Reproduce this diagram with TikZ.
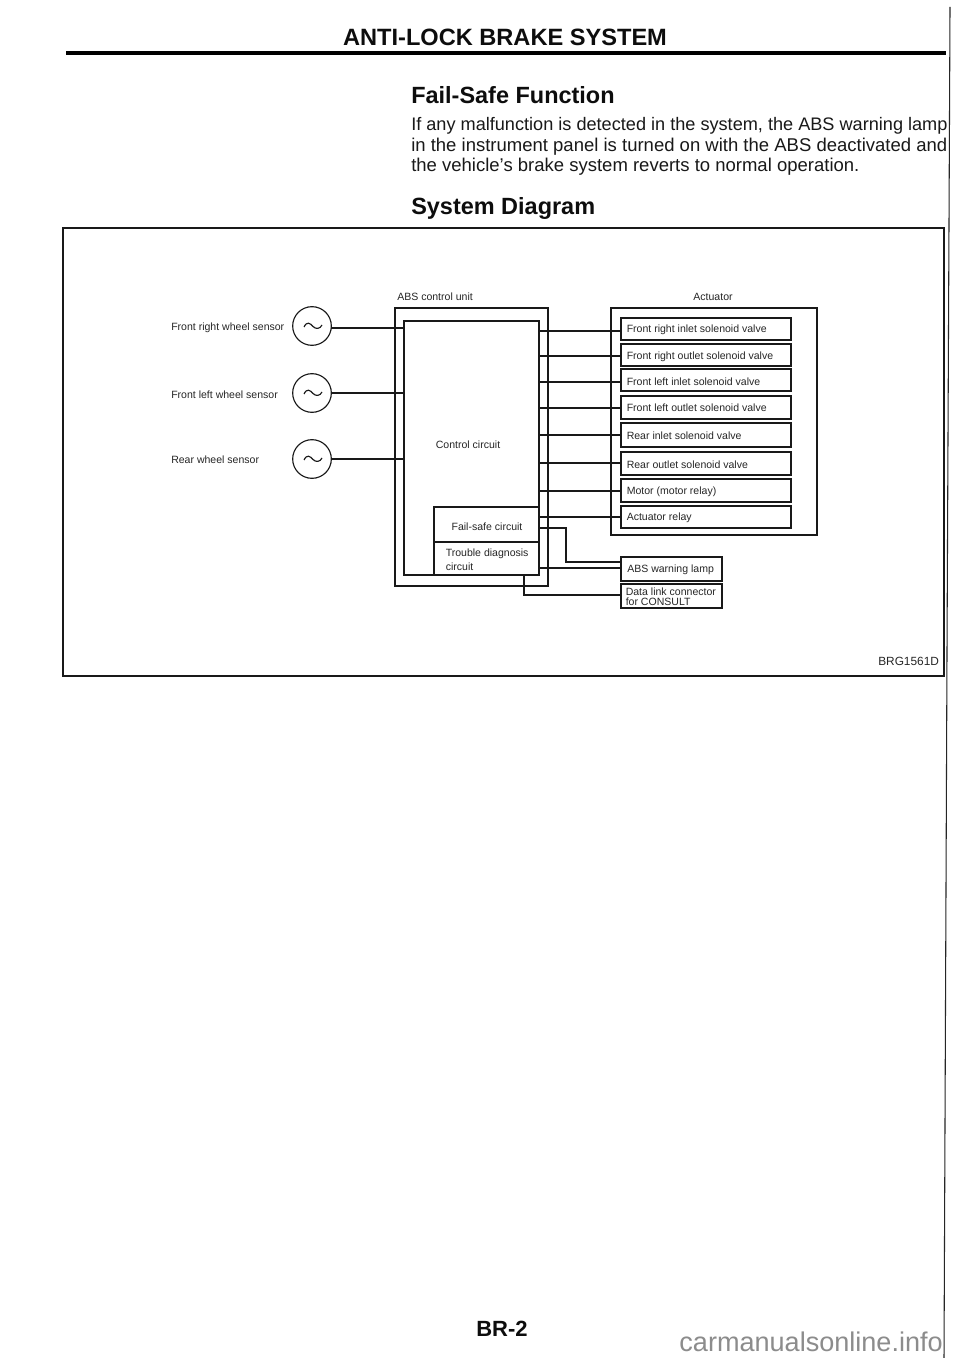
\documentclass[tikz,border=0pt]{standalone}
\usepackage{fontspec}
\setmainfont{Liberation Sans}
\tikzset{
  x=0.75pt,y=-0.75pt,
  ln/.style={draw=black!90,line width=0.85pt},
  blk/.style={ln,rectangle,inner sep=0pt,outer sep=0pt,anchor=north west},
  lbl/.style={font=\fontsize{7.9pt}{8.5pt}\selectfont,text=black!85,inner sep=0pt,anchor=west},
  head/.style={font=\bfseries\fontsize{17.6pt}{20pt}\selectfont,text=black!95,inner sep=0pt,anchor=west},
  body/.style={font=\fontsize{13.6pt}{15pt}\selectfont,text=black!90,inner sep=0pt,anchor=west},
  bodyw/.style={font=\fontsize{13.88pt}{15pt}\selectfont,text=black!90,inner sep=0pt,anchor=west},
  sens/.style={ln,circle,minimum size=29pt,inner sep=0pt,outer sep=0pt},
}
\begin{document}
\begin{tikzpicture}
\useasboundingbox (0,0) rectangle (960,1358);
\fill[white] (0,0) rectangle (960,1358);
% page furniture
\draw[line width=0.8pt,black!85] (950,7) -- (947,650) -- (944,1358);
\draw[line width=2.3pt,black] (66,53) -- (946,53);
\node[font=\bfseries\fontsize{17.7pt}{20pt}\selectfont,text=black!95,inner sep=0pt] (title) at (505,37) {ANTI-LOCK BRAKE SYSTEM};
\node[head] (h1) at (411,95) {Fail-Safe Function};
\node[body] (p1) at (411,126) {If any malfunction is detected in the system, the ABS warning lamp};
\node[bodyw] (p2) at (411,147) {in the instrument panel is turned on with the ABS deactivated and};
\node[bodyw] (p3) at (411,167) {the vehicle’s brake system reverts to normal operation.};
\node[head] (h2) at (411,208) {System Diagram};
\node[font=\bfseries\fontsize{16.5pt}{18pt}\selectfont,text=black!95,inner sep=0pt] (pg) at (502,1329) {BR-2};
\node[font=\fontsize{20.3pt}{22pt}\selectfont,text=black!45,inner sep=0pt,anchor=east] (wm) at (943,1342) {carmanualsonline.info};
% frame
\node[blk,minimum width=881*0.75pt,minimum height=448*0.75pt] (frame) at (63,228) {};
\node[lbl,font=\fontsize{8.9pt}{10pt}\selectfont] (code) at (878,661) {BRG1561D};
% unit
\node[lbl] (abst) at (397,296.5) {ABS control unit};
\node[blk,minimum width=153*0.75pt,minimum height=278*0.75pt] (abs) at (395,308) {};
\node[blk,minimum width=135*0.75pt,minimum height=254*0.75pt] (ctl) at (404,321) {};
\node[lbl,anchor=center] (ctlt) at (468,445) {Control circuit};
\node[blk,minimum width=105*0.75pt,minimum height=35*0.75pt] (fs) at (434,507) {};
\node[lbl,anchor=center] (fst) at (487,526.5) {Fail-safe circuit};
\node[blk,minimum width=105*0.75pt,minimum height=33*0.75pt] (td) at (434,542) {};
\node[lbl,align=left,font=\fontsize{7.9pt}{10.5pt}\selectfont] (tdt) at (445.5,559.5) {Trouble diagnosis\\circuit};
% actuator
\node[lbl,anchor=center] (actt) at (713,296.5) {Actuator};
\node[blk,minimum width=206*0.75pt,minimum height=227*0.75pt] (act) at (611,308) {};
\foreach \n/\y/\h/\ty/\t in {a/318/22/330/Front right inlet solenoid valve,
  b/344/22/357/Front right outlet solenoid valve,
  c/369/22/382/Front left inlet solenoid valve,
  d/396/23/408/Front left outlet solenoid valve,
  e/423/24/436/Rear inlet solenoid valve,
  f/452/23/465/Rear outlet solenoid valve,
  g/479/23/492/Motor (motor relay),
  h/506/22/518/Actuator relay}{
  \node[blk,minimum width=170*0.75pt,minimum height=\h*0.75pt] (\n) at (621,\y) {};
  \node[lbl] (\n t) at (626.5,\ty) {\t};
}
\node[blk,minimum width=101*0.75pt,minimum height=24*0.75pt] (lamp) at (621,557) {};
\node[lbl] (lampt) at (627,570) {ABS warning lamp};
\node[blk,minimum width=101*0.75pt,minimum height=24*0.75pt] (dlc) at (621,584) {};
\node[lbl,align=left,font=\fontsize{7.9pt}{7.6pt}\selectfont] (dlct) at (625.5,596.5) {Data link connector\\for CONSULT};
% connectors to actuator
\foreach \n/\y in {a/331,b/356,c/382,d/408,e/435,f/463,g/491,h/517}{
  \draw[ln] (ctl.east |- 0,\y) -- (\n.west |- 0,\y);
}
\draw[ln] (fs.east |- 0,528) -- (566,528) -- (566,562) -- (lamp.west |- 0,562);
\draw[ln] (td.east |- 0,568) -- (lamp.west |- 0,568);
\draw[ln] (524,575) -- (524,595) -- (dlc.west |- 0,595);
% sensors
\foreach \n/\y/\ly/\ty/\t in {s1/326/328/327.5/Front right wheel sensor,s2/393/393/394.5/Front left wheel sensor,s3/459/459/460/Rear wheel sensor}{
  \node[sens] (\n) at (312,\y) {};
  \node[lbl] (\n t) at (171,\ty) {\t};
  \draw[line width=0.85pt,black!90] (304,\y+1) .. controls (307,\y-5) and (310,\y-3) .. (313,\y+0.5) .. controls (316,\y+3.5) and (320,\y+3) .. (322,\y-1);
  \draw[ln] (331,\ly) -- (ctl.west |- 0,\ly);
}
\end{tikzpicture}
\end{document}
